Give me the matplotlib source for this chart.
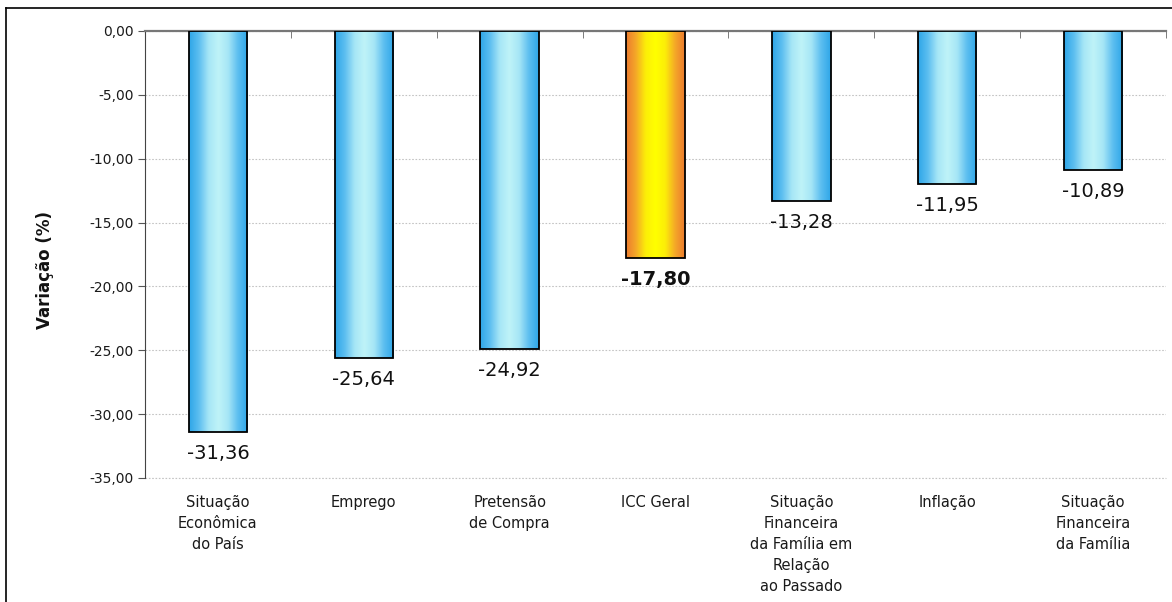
import numpy as np
import matplotlib
matplotlib.use("Agg")
import matplotlib.pyplot as plt
from matplotlib.colors import LinearSegmentedColormap
from matplotlib.lines import Line2D
from matplotlib.ticker import MultipleLocator, FuncFormatter

categorias = [
    "Situação\nEconômica\ndo País",
    "Emprego",
    "Pretensão\nde Compra",
    "ICC Geral",
    "Situação\nFinanceira\nda Família em\nRelação\nao Passado",
    "Inflação",
    "Situação\nFinanceira\nda Família",
]
variacao = [-31.36, -25.64, -24.92, -17.80, -13.28, -11.95, -10.89]
destaque = [False, False, False, True, False, False, False]

plt.rcParams["font.family"] = ["DejaVu Sans"]

fig = plt.figure(figsize=(11.72, 6.02), dpi=100)
ax = fig.add_axes([145 / 1172, 124 / 602, 1021 / 1172, 447 / 602])

azul = LinearSegmentedColormap.from_list(
    "azul", ["#2ea6e8", "#5cbef0", "#a6e6f6", "#bff3f8", "#a6e6f6", "#5cbef0", "#2ea6e8"])
laranja = LinearSegmentedColormap.from_list(
    "laranja", ["#ec7a2e", "#f4a828", "#fcee08", "#ffff00", "#fcee08", "#f4a828", "#ec7a2e"])
grad = np.linspace(0, 1, 256).reshape(1, -1)

x = np.arange(len(categorias))
largura = 0.4
barras = ax.bar(x, variacao, width=largura, facecolor="none",
                edgecolor="black", linewidth=1.3, zorder=4)

for b, v, d in zip(barras, variacao, destaque):
    x0 = b.get_x()
    ax.imshow(grad, cmap=laranja if d else azul, aspect="auto",
              extent=[x0, x0 + b.get_width(), v, 0], zorder=3,
              interpolation="bicubic")
    ax.annotate(f"{v:.2f}".replace(".", ","), (b.get_x() + b.get_width() / 2, v),
                xytext=(0, -15.5), textcoords="offset points",
                ha="center", va="center", fontsize=14,
                fontweight="bold" if d else "normal", color="#111111")

ax.set_xlim(-0.5, len(categorias) - 0.5)
ax.set_ylim(-35, 0)

ax.yaxis.set_major_locator(MultipleLocator(5))
ax.yaxis.set_major_formatter(FuncFormatter(lambda v, p: f"{v:.2f}".replace(".", ",")))
ax.tick_params(axis="y", labelsize=10, length=5, color="#555555", labelcolor="#1a1a1a", pad=3)

ax.set_xticks(x)
ax.set_xticklabels(categorias, fontsize=10.5, linespacing=1.5, color="#1a1a1a")
ax.tick_params(axis="x", which="major", length=0, pad=12)
ax.set_xticks(np.arange(0.5, len(categorias) - 0.5 + 1e-9, 1), minor=True)
ax.tick_params(axis="x", which="minor", bottom=False, top=True, direction="in",
               length=5, color="#666666")

ax.grid(axis="y", linestyle=(0, (1.5, 1.5)), linewidth=0.8, color="#c4c4c4", zorder=0)
ax.axhline(-35, linestyle=(0, (1.5, 1.5)), linewidth=0.8, color="#c4c4c4",
           zorder=0, clip_on=False)
ax.set_axisbelow(True)

ax.spines["right"].set_visible(False)
ax.spines["bottom"].set_visible(False)
ax.spines["left"].set_color("#444444")
ax.spines["top"].set_color("#777777")
ax.spines["top"].set_linewidth(1.6)

fig.text(45 / 1172, 1 - 270 / 602, "Variação (%)", rotation=90, ha="center", va="center",
         fontsize=12, fontweight="bold", color="#111111")

# moldura do gráfico
fig.add_artist(Line2D([6 / 1172, 6 / 1172], [0, 1 - 8 / 602], color="black", linewidth=1.2))
fig.add_artist(Line2D([6 / 1172, 1], [1 - 8 / 602, 1 - 8 / 602], color="black", linewidth=1.2))

fig.savefig("out.png", dpi=100)
